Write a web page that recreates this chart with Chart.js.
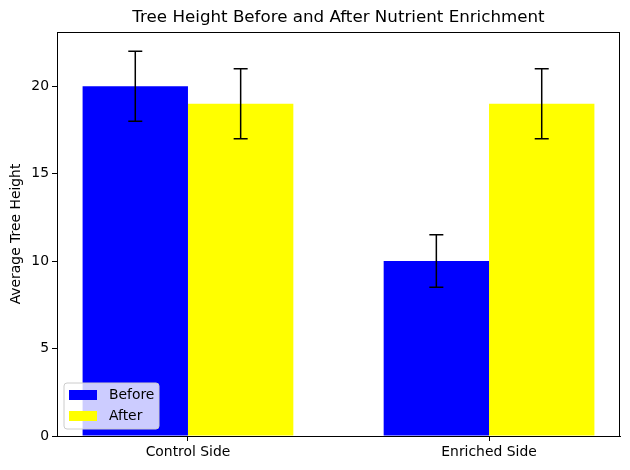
<!DOCTYPE html>
<html>
<head>
<meta charset="utf-8">
<script src="https://cdn.jsdelivr.net/npm/chart.js@4"></script>
<style>
  html, body { margin: 0; padding: 0; background: #fff; }
  #wrap { width: 630px; height: 470px; }
</style>
</head>
<body>
<div id="wrap"><canvas id="chart-trees"></canvas></div>
<script>
const categories = ['Control Side', 'Enriched Side'];
const beforeVals = [20, 10];
const afterVals = [19, 19];
const beforeErr = [2, 1.5];
const afterErr = [2, 2];
const yTicks = [0, 5, 10, 15, 20];
const titleText = 'Tree Height Before and After Nutrient Enrichment';

const FONT = "'DejaVu Sans', sans-serif";

// error bars + full axes box + legend inside plot + title centred over the axes
const extras = {
  id: 'extras',
  afterDatasetsDraw(chart) {
    const { ctx, chartArea: a, scales } = chart;
    const errs = [beforeErr, afterErr];
    const vals = [beforeVals, afterVals];
    ctx.save();
    ctx.strokeStyle = '#000';
    ctx.lineWidth = 1.5;
    errs.forEach((err, di) => {
      const meta = chart.getDatasetMeta(di);
      meta.data.forEach((bar, i) => {
        const x = bar.x;
        const top = scales.y.getPixelForValue(vals[di][i] + err[i]);
        const bot = scales.y.getPixelForValue(vals[di][i] - err[i]);
        ctx.beginPath();
        ctx.moveTo(x, top); ctx.lineTo(x, bot);
        ctx.moveTo(x - 7, top); ctx.lineTo(x + 7, top);
        ctx.moveTo(x - 7, bot); ctx.lineTo(x + 7, bot);
        ctx.stroke();
      });
    });

    // box
    ctx.lineWidth = 1;
    ctx.strokeRect(a.left + 0.5, a.top + 0.5, a.right - a.left - 1, a.bottom - a.top);

    // legend
    const lx = a.left + 7, ly = a.bottom - 53, lw = 95, lh = 46;
    ctx.fillStyle = 'rgba(255,255,255,0.8)';
    ctx.strokeStyle = '#ccc';
    ctx.beginPath();
    ctx.roundRect(lx, ly, lw, lh, 3);
    ctx.fill(); ctx.stroke();
    const items = chart.data.datasets;
    ctx.font = '13.9px ' + FONT;
    ctx.textBaseline = 'middle';
    items.forEach((ds, i) => {
      const yy = ly + 7 + i * 21;
      ctx.fillStyle = ds.backgroundColor;
      ctx.fillRect(lx + 5, yy, 28, 10);
      ctx.fillStyle = '#000';
      ctx.fillText(ds.label, lx + 45, yy + 5);
    });

    // title
    ctx.font = '16.7px ' + FONT;
    ctx.textAlign = 'center';
    ctx.fillStyle = '#000';
    ctx.fillText(titleText, (a.left + a.right) / 2, 18);
    ctx.restore();
  }
};

new Chart(document.getElementById('chart-trees'), {
  type: 'bar',
  data: {
    datasets: [
      {
        label: 'Before',
        data: beforeVals.map((v, i) => ({ x: i, y: v })),
        backgroundColor: '#0000ff',
        categoryPercentage: 0.7,
        barPercentage: 1
      },
      {
        label: 'After',
        data: afterVals.map((v, i) => ({ x: i, y: v })),
        backgroundColor: '#ffff00',
        categoryPercentage: 0.7,
        barPercentage: 1
      }
    ]
  },
  options: {
    responsive: true,
    maintainAspectRatio: false,
    animation: false,
    layout: { padding: { left: 0, right: 10, top: 32, bottom: 0 } },
    plugins: {
      legend: { display: false },
      tooltip: { enabled: false },
      title: { display: false }
    },
    scales: {
      x: {
        type: 'linear',
        min: -0.435,
        max: 1.435,
        offset: false,
        afterBuildTicks: axis => { axis.ticks = categories.map((c, i) => ({ value: i })); },
        afterFit: axis => { axis.height = 34; },
        grid: { display: true, offset: false, drawOnChartArea: false, drawTicks: true, tickLength: 5, color: '#000' },
        border: { display: true, color: '#000' },
        ticks: {
          color: '#000',
          padding: 3,
          maxRotation: 0,
          font: { family: FONT, size: 13.9 },
          callback: v => categories[v]
        }
      },
      y: {
        min: 0,
        max: 23.1,
        afterBuildTicks: axis => { axis.ticks = yTicks.map(v => ({ value: v })); },
        afterFit: axis => { axis.width = 57; },
        grid: { display: true, drawOnChartArea: false, drawTicks: true, tickLength: 5, color: '#000' },
        border: { display: true, color: '#000' },
        title: {
          display: true,
          text: 'Average Tree Height',
          color: '#000',
          font: { family: FONT, size: 13.9 },
          padding: { top: 8, bottom: 0 }
        },
        ticks: {
          color: '#000',
          padding: 3,
          font: { family: FONT, size: 13.9 }
        }
      }
    }
  },
  plugins: [extras]
});
</script>
</body>
</html>
